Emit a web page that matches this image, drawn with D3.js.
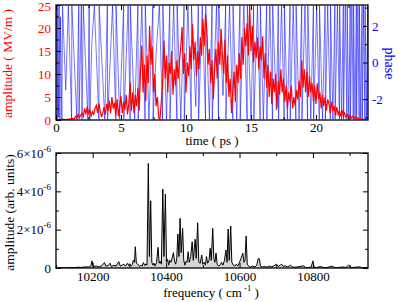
<!DOCTYPE html>
<html>
<head>
<meta charset="utf-8">
<script src="https://cdn.jsdelivr.net/npm/d3@7"></script>
<style>
  body { margin: 0; background: #fff; }
  text { font-family: "Liberation Serif", "DejaVu Serif", serif; }
</style>
</head>
<body>
<script>
// top panel: field amplitude (MV/m), sampled every ampStep ps from 0
const ampStep = 0.1;
const amplitude = [
  0, 0.05, 0.1, 0.02, 0.15, 0.05, 0.2, 0.1, 0.05, 0.2,
  0.1, 0.3, 0.15, 0.4, 0.2, 0.8, 0.4, 1.2, 0.6, 1.0,
  1.5, 0.8, 2.5, 1.2, 2.9, 1.5, 2.2, 0.9, 1.8, 1.2,
  2.5, 3.2, 1.5, 3.6, 2.0, 0.6, 1.5, 2.8, 1.2, 3.5,
  2.0, 4.2, 1.5, 5.0, 2.5, 3.8, 1.0, 4.5, 0.8, 3.0,
  5.2, 1.5, 4.0, 2.2, 5.5, 1.2, 3.5, 8.2, 2.0, 6.0,
  1.5, 5.5, 3.0, 7.0, 2.0, 10.5, 16.2, 6.0, 12.0, 4.0,
  14.0, 8.0, 20.5, 12.0, 16.0, 6.0, 10.0, 3.0, 5.0, 0.5,
  0.2, 4.0, 8.0, 17.2, 9.0, 14.0, 6.0, 12.5, 10.0, 15.0,
  5.5, 11.0, 7.5, 13.0, 9.0, 12.8, 16.0, 20.2, 10.0, 14.5,
  6.0, 12.5, 9.5, 16.0, 11.0, 20.8, 13.0, 17.0, 9.5, 15.0,
  11.0, 18.0, 14.0, 22.0, 16.0, 23.0, 19.5, 12.0, 15.5, 8.0,
  13.0, 4.5, 11.0, 15.5, 9.0, 17.0, 12.0, 19.8, 14.0, 10.0,
  17.5, 8.0, 14.0, 5.0, 9.0, 1.5, 6.0, 10.5, 4.0, 12.0,
  8.0, 14.5, 9.0, 18.0, 12.0, 20.0, 16.0, 21.0, 14.0, 25.0,
  15.0, 20.5, 12.5, 17.0, 13.5, 18.0, 11.0, 16.0, 13.0, 18.2,
  9.0, 14.5, 7.0, 12.0, 5.0, 10.5, 3.5, 9.0, 6.0, 10.0,
  2.5, 8.5, 5.5, 11.0, 6.0, 9.0, 4.0, 7.5, 2.5, 6.0,
  4.0, 7.5, 2.5, 5.0, 3.0, 6.5, 4.5, 8.5, 5.0, 13.0,
  7.0, 11.0, 6.0, 10.5, 5.0, 9.5, 6.0, 8.0, 4.0, 7.5,
  3.5, 8.0, 4.5, 6.0, 2.5, 5.5, 3.0, 5.0, 2.0, 4.5,
  3.5, 1.5, 4.0, 2.0, 3.0, 1.0, 2.8, 1.2, 2.0, 0.8,
  2.2, 0.9, 1.5, 0.6, 1.2, 0.5, 1.0, 0.4, 0.8, 0.3,
  0.6, 0.3, 0.5, 0.2, 0.3, 0.15, 0.2, 0.1, 0.05, 0.05,
  0
];

// top panel: wrapped phase, [time ps, phase rad]
const phasePts = [
  [0.0, -3.1], [0.03, 3.1], [0.1, -3.1], [0.13, 3.1], [0.2, -3.0], [0.24, 3.1],
  [0.3, -3.1], [0.34, 2.5], [0.45, -3.1], [0.5, 3.1], [0.75, -1.5], [0.95, 3.1],
  [1.2, -3.1], [1.22, 3.1], [1.6, -3.1], [1.75, 3.1], [1.77, -3.1], [1.95, 3.1],
  [2.0, -3.1], [2.1, 3.1], [2.45, -3.1], [2.55, 3.1], [2.6, -3.1], [2.75, 1.0],
  [2.95, 3.1], [3.3, -3.1], [3.32, 3.1], [3.75, -3.1], [3.95, 3.1], [3.97, -3.1],
  [4.35, 3.1], [4.6, -3.1], [4.62, 3.1], [4.9, -3.1], [5.2, 3.1], [5.22, -3.1],
  [5.55, 3.1], [5.7, -3.1], [5.72, 3.1], [6.05, -3.1], [6.3, 3.1], [6.32, -3.1],
  [6.6, 3.1], [6.85, -3.1], [6.87, 3.1], [7.15, -3.1], [7.45, 3.1], [7.47, -3.1],
  [7.7, 0.5], [7.95, 3.1], [8.2, -3.1], [8.22, 3.1], [8.5, -3.1], [8.75, 3.1],
  [8.77, -3.1], [9.05, 3.1], [9.3, -3.1], [9.32, 3.1], [9.6, -3.1], [9.85, 3.1],
  [9.87, -3.1], [10.15, 3.1], [10.4, -3.1], [10.42, 3.1], [10.75, -2.4], [10.95, 3.1],
  [10.97, -3.1], [11.25, 3.1], [11.5, -3.1], [11.52, 3.1], [11.8, -3.1], [12.0, 3.1],
  [12.02, -3.1], [12.35, 3.1], [12.5, -3.1], [12.52, 3.1], [12.85, -1.8], [13.05, 3.1],
  [13.07, -3.1], [13.35, 3.1], [13.6, -3.1], [13.62, 3.1], [13.9, -3.1], [14.15, 3.1],
  [14.17, -3.1], [14.45, 3.1], [14.7, -3.1], [14.72, 3.1], [15.0, -3.1], [15.2, 3.1],
  [15.22, -3.1], [15.5, 3.1], [15.7, -3.1], [15.72, 3.1], [15.95, -3.1], [16.2, 3.1],
  [16.22, -3.1], [16.45, 3.1], [16.65, -3.1], [16.67, 3.1], [16.95, -2.6], [17.1, 3.1],
  [17.12, -3.1], [17.35, 3.1], [17.55, -3.1], [17.57, 3.1], [17.8, -3.1], [18.0, 3.1],
  [18.02, -3.1], [18.25, 3.1], [18.45, -3.1], [18.47, 3.1], [18.7, -3.1], [18.9, 3.1],
  [18.92, -3.1], [19.15, 3.1], [19.35, -3.1], [19.37, 3.1], [19.6, -3.1], [19.8, 3.1],
  [19.82, -3.1], [20.05, 3.1], [20.25, -3.1], [20.27, 3.1], [20.5, -3.1], [20.7, 3.1],
  [20.72, -3.1], [20.9, 3.1], [21.1, -3.1], [21.12, 3.1], [21.3, -3.1], [21.45, 3.1],
  [21.47, -3.1], [21.65, 3.1], [21.8, -3.1], [21.82, 3.1], [21.97, -3.1], [22.1, 3.1],
  [22.12, -3.1], [22.25, 3.1], [22.38, -3.1], [22.4, 3.1], [22.52, -3.1], [22.63, 3.1],
  [22.65, -3.1], [22.76, 3.1], [22.87, -3.1], [22.89, 3.1], [23.0, -3.1], [23.1, 3.1],
  [23.12, -3.1], [23.22, 3.1], [23.32, -3.1], [23.34, 3.1], [23.44, -3.1], [23.54, 3.1],
  [23.56, -3.1], [23.66, 3.1], [23.76, -3.1], [23.78, 3.1], [23.88, -3.1], [23.98, 3.1],
  [24.0, -3.1]
];

// bottom panel: spectrum, frequency (cm-1) and amplitude (x1e-6)
const freq = [
  10100, 10110, 10120, 10130, 10140, 10150, 10160, 10170, 10180, 10190,
  10195, 10198, 10201, 10210, 10218, 10225, 10232, 10236, 10242, 10247,
  10251, 10258, 10264, 10271, 10275, 10280, 10285, 10289, 10295, 10298,
  10301, 10305, 10308, 10311, 10314, 10316, 10319, 10323, 10327, 10331,
  10335, 10338, 10342, 10345, 10348, 10351.5, 10354.5, 10358, 10361, 10364,
  10367, 10370, 10374, 10378, 10381, 10384, 10387, 10391, 10394, 10398,
  10401, 10404, 10407, 10410, 10413, 10416, 10420, 10423, 10426, 10429,
  10432, 10435, 10438, 10441, 10445, 10448, 10451, 10454, 10457, 10460,
  10463, 10467, 10471, 10474, 10479, 10482, 10486, 10489, 10493, 10497,
  10500, 10504, 10507, 10510, 10513, 10517, 10520, 10523, 10527, 10530,
  10533, 10536, 10539, 10543, 10547, 10551, 10555, 10559, 10563, 10566,
  10569, 10572, 10576, 10579, 10583, 10587, 10591, 10595, 10600, 10604,
  10609, 10612, 10615, 10618, 10621, 10625, 10630, 10636, 10642, 10647,
  10651, 10654, 10657, 10662, 10668, 10675, 10682, 10688, 10694, 10701,
  10706, 10711, 10715, 10719, 10724, 10730, 10735, 10739, 10744, 10750,
  10758, 10765, 10773, 10780, 10788, 10795, 10800, 10803, 10810, 10820,
  10830, 10840, 10851, 10860, 10870, 10880, 10890, 10897, 10905, 10915,
  10925, 10935, 10950
];
const spec = [
  0, 0.01, 0.02, 0.01, 0.03, 0.02, 0.04, 0.03, 0.06, 0.05,
  0.1, 0.37, 0.08, 0.1, 0.06, 0.12, 0.28, 0.1, 0.12, 0.25,
  0.08, 0.14, 0.1, 0.33, 0.1, 0.15, 0.2, 0.1, 0.25, 0.12,
  0.22, 0.1, 0.18, 0.42, 0.3, 1.11, 0.25, 0.2, 0.08, 0.15,
  0.1, 0.28, 0.12, 0.22, 0.15, 5.46, 0.6, 3.51, 0.3, 0.15,
  0.25, 0.1, 0.3, 1.08, 0.25, 0.35, 0.2, 4.12, 0.6, 3.86,
  0.3, 0.45, 0.15, 0.4, 0.3, 0.5, 0.8, 0.35, 0.2, 0.5,
  1.77, 0.6, 2.59, 0.8, 2.07, 0.4, 0.15, 0.35, 0.3, 0.85,
  0.3, 0.6, 1.37, 0.4, 1.5, 0.5, 2.36, 0.3, 0.25, 0.68,
  0.2, 0.3, 0.15, 0.6, 0.25, 0.4, 1.03, 0.4, 2.07, 0.5,
  0.3, 0.78, 0.2, 0.1, 0.15, 0.3, 0.15, 0.4, 0.94, 0.3,
  2.03, 0.4, 2.19, 0.3, 0.15, 0.1, 0.2, 0.1, 0.3, 0.5,
  0.77, 0.3, 0.4, 1.67, 0.2, 0.1, 0.05, 0.1, 0.05, 0.15,
  0.5, 0.48, 0.1, 0.05, 0.08, 0.04, 0.1, 0.06, 0.12, 0.2,
  0.08, 0.15, 0.2, 0.08, 0.12, 0.06, 0.1, 0.15, 0.05, 0.04,
  0.06, 0.08, 0.12, 0.03, 0.02, 0.05, 0.37, 0.04, 0.02, 0.08,
  0.02, 0.03, 0.1, 0.02, 0.03, 0.05, 0.03, 0.15, 0.02, 0.04,
  0.06, 0.02, 0.03
];

const timeTicks = [0, 5, 10, 15, 20];
const ampTicks = [0, 5, 10, 15, 20, 25];
const phaseTicks = [-2, 0, 2];
const freqTicks = [10200, 10400, 10600, 10800];
const specTicks = [0, 2, 4, 6];

const W = 399, H = 302;
const left = 56, right = 368;
const top1 = 5, bot1 = 120;
const top2 = 153, bot2 = 268;
const fs = 13;

const svg = d3.select('body').append('svg')
  .attr('width', W).attr('height', H);

// ---- top panel ----
const x1 = d3.scaleLinear().domain([0, 24]).range([left, right]);
const yA = d3.scaleLinear().domain([0, 25]).range([bot1, top1]);
const yP = d3.scaleLinear().domain([-Math.PI, Math.PI]).range([bot1, top1]);

svg.append('clipPath').attr('id', 'c1').append('rect')
  .attr('x', left).attr('y', top1).attr('width', right - left).attr('height', bot1 - top1);
svg.append('clipPath').attr('id', 'c2').append('rect')
  .attr('x', left).attr('y', top2).attr('width', right - left).attr('height', bot2 - top2);

const g1 = svg.append('g').attr('clip-path', 'url(#c1)');
g1.append('path')
  .datum(phasePts)
  .attr('d', d3.line().x(d => x1(d[0])).y(d => yP(d[1])))
  .attr('fill', 'none')
  .attr('stroke', '#0000ff')
  .attr('stroke-opacity', 0.6)
  .attr('stroke-width', 0.9);
g1.append('path')
  .datum(amplitude)
  .attr('d', d3.line().x((d, i) => x1(i * ampStep)).y(d => yA(d)))
  .attr('fill', 'none')
  .attr('stroke', '#ff0000')
  .attr('stroke-width', 1.2);

function minor(ax, vals) {
  return ax.tickValues(vals).tickSize(-3).tickFormat('');
}

// x axes (ticks point inward)
svg.append('g').attr('transform', `translate(0,${bot1})`)
  .call(d3.axisBottom(x1).tickValues(timeTicks).tickSize(-5).tickPadding(3));
svg.append('g').attr('transform', `translate(0,${bot1})`)
  .call(minor(d3.axisBottom(x1), [2.5, 7.5, 12.5, 17.5, 22.5]));
svg.append('g').attr('transform', `translate(0,${top1})`)
  .call(d3.axisTop(x1).tickValues(timeTicks).tickSize(-5).tickFormat(''));
svg.append('g').attr('transform', `translate(0,${top1})`)
  .call(minor(d3.axisTop(x1), [2.5, 7.5, 12.5, 17.5, 22.5]));

const la = svg.append('g').attr('transform', `translate(${left},0)`)
  .call(d3.axisLeft(yA).tickValues(ampTicks).tickSize(-5).tickPadding(5));
la.selectAll('text').attr('fill', '#ff0000');
la.selectAll('.tick').filter(d => d === 25).select('text').attr('dy', '0.4em');
svg.append('g').attr('transform', `translate(${left},0)`)
  .call(minor(d3.axisLeft(yA), [2.5, 7.5, 12.5, 17.5, 22.5]));

const ra = svg.append('g').attr('transform', `translate(${right},0)`)
  .call(d3.axisRight(yP).tickValues(phaseTicks).tickSize(-5).tickPadding(4)
    .tickFormat(d => d < 0 ? '-' + Math.abs(d) : d));
ra.selectAll('text').attr('fill', '#0000ff');
svg.append('g').attr('transform', `translate(${right},0)`)
  .call(minor(d3.axisRight(yP), [-3, -1, 1, 3]));

// ---- bottom panel ----
const x2 = d3.scaleLinear().domain([10100, 10950]).range([left, right]);
const yS = d3.scaleLinear().domain([0, 6]).range([bot2, top2]);
const pts = freq.map((f, i) => [f, spec[i]]);

const g2 = svg.append('g').attr('clip-path', 'url(#c2)');
g2.append('path')
  .datum(pts)
  .attr('d', d3.area().x(d => x2(d[0])).y0(yS(0)).y1(d => yS(d[1])))
  .attr('fill', '#d6d6d6');
g2.append('path')
  .datum(pts)
  .attr('d', d3.line().x(d => x2(d[0])).y(d => yS(d[1])))
  .attr('fill', 'none')
  .attr('stroke', '#000')
  .attr('stroke-width', 1);

const fMinor = [10100, 10300, 10500, 10700, 10900];
svg.append('g').attr('transform', `translate(0,${bot2})`)
  .call(d3.axisBottom(x2).tickValues(freqTicks).tickSize(-5).tickPadding(4)
    .tickFormat(d3.format('d')));
svg.append('g').attr('transform', `translate(0,${bot2})`)
  .call(minor(d3.axisBottom(x2), fMinor));
svg.append('g').attr('transform', `translate(0,${top2})`)
  .call(d3.axisTop(x2).tickValues(freqTicks).tickSize(-5).tickFormat(''));
svg.append('g').attr('transform', `translate(0,${top2})`)
  .call(minor(d3.axisTop(x2), fMinor));

svg.append('g').attr('transform', `translate(${left},0)`)
  .call(d3.axisLeft(yS).tickValues(specTicks).tickSize(-5).tickFormat(''));
svg.append('g').attr('transform', `translate(${left},0)`)
  .call(minor(d3.axisLeft(yS), [1, 3, 5]));
svg.append('g').attr('transform', `translate(${right},0)`)
  .call(d3.axisRight(yS).tickValues(specTicks).tickSize(-5).tickFormat(''));
svg.append('g').attr('transform', `translate(${right},0)`)
  .call(minor(d3.axisRight(yS), [1, 3, 5]));

// y labels with exponent
specTicks.forEach(v => {
  const t = svg.append('text')
    .attr('x', left - 5).attr('y', yS(v) + 4.5)
    .attr('text-anchor', 'end')
    .attr('font-size', fs)
    .attr('fill', '#000');
  if (v === 0) { t.text('0'); return; }
  t.append('tspan').text(v + '\u00d710');
  t.append('tspan').attr('dy', -6).attr('font-size', 9).text('-6');
});

// common axis styling
svg.selectAll('.tick text').attr('font-size', fs)
  .style('font-family', '"Liberation Serif", serif');
svg.selectAll('.domain').remove();
svg.selectAll('.tick line').attr('stroke', '#000');

// frames
[[top1, bot1], [top2, bot2]].forEach(([a, b]) => {
  svg.append('rect')
    .attr('x', left).attr('y', a).attr('width', right - left).attr('height', b - a)
    .attr('fill', 'none').attr('stroke', '#000').attr('stroke-width', 1.3);
});

// axis titles
svg.append('text').attr('x', 212).attr('y', 145).attr('text-anchor', 'middle')
  .attr('font-size', fs).text('time ( ps )');
svg.append('text')
  .attr('transform', `translate(12,${(top1 + bot1) / 2 + 1}) rotate(-90)`)
  .attr('text-anchor', 'middle').attr('font-size', 13.5).attr('fill', '#ff0000')
  .text('amplitude ( MV/m )');
svg.append('text')
  .attr('transform', `translate(385,${(top1 + bot1) / 2 + 1}) rotate(90)`)
  .attr('text-anchor', 'middle').attr('font-size', 14).attr('fill', '#0000ff')
  .text('phase');
svg.append('text')
  .attr('transform', `translate(14,${(top2 + bot2) / 2 + 2}) rotate(-90)`)
  .attr('text-anchor', 'middle').attr('font-size', 13.5)
  .text('amplitude (arb. units)');

const fl = svg.append('text').attr('x', 211).attr('y', 297).attr('text-anchor', 'middle')
  .attr('font-size', fs);
fl.append('tspan').text('frequency ( cm');
fl.append('tspan').attr('dy', -6).attr('font-size', 8.5).text(' -1');
fl.append('tspan').attr('dy', 6).text(' )');
</script>
</body>
</html>
